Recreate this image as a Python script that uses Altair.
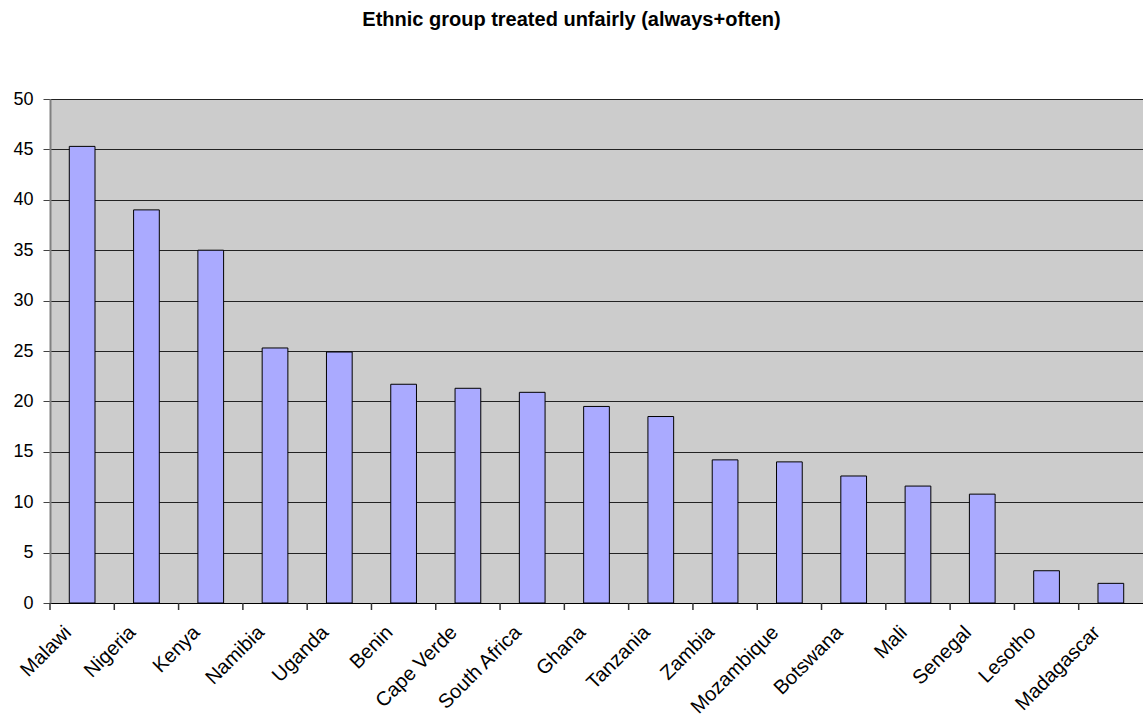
import altair as alt
import pandas as pd

countries = ["Malawi", "Nigeria", "Kenya", "Namibia", "Uganda", "Benin",
             "Cape Verde", "South Africa", "Ghana", "Tanzania", "Zambia",
             "Mozambique", "Botswana", "Mali", "Senegal", "Lesotho", "Madagascar"]
values = [45.3, 39.0, 35.0, 25.3, 24.9, 21.7, 21.3, 20.9, 19.5, 18.5,
          14.2, 14.0, 12.6, 11.6, 10.8, 3.2, 1.95]

df = pd.DataFrame({"country": countries, "pct": values})

FONT = "Liberation Sans"
W, H = 1093, 504

x_axis = alt.Axis(title=None, labelAngle=-45, labelAlign="right", labelBaseline="middle",
                  labelFont=FONT, labelFontSize=20, labelColor="black",
                  labelPadding=26, labelOffset=-14, ticks=False,
                  domainColor="black", domainWidth=1)

bars = alt.Chart(df).mark_bar(
    width=alt.RelativeBandSize(0.4), color="#AAAAFF", stroke="black", strokeWidth=1
).encode(
    x=alt.X("country:N", sort=None, axis=x_axis,
            scale=alt.Scale(paddingInner=0, paddingOuter=0)),
    y=alt.Y("pct:Q",
            scale=alt.Scale(domain=[0, 50], nice=False),
            axis=alt.Axis(title=None, values=list(range(0, 51, 5)),
                          labelFont=FONT, labelFontSize=18, labelColor="black",
                          labelPadding=10, tickSize=7, tickColor="#444444",
                          domainColor="#808080", domainWidth=2,
                          grid=True, gridColor="#222222", gridWidth=1)),
)

# category boundary ticks below the x axis
ticks = alt.Chart(df).mark_rule(color="#333333", strokeWidth=1.5).encode(
    x=alt.X("country:N", sort=None, bandPosition=0),
    y=alt.value(H),
    y2=alt.value(H + 7),
)

chart = alt.layer(bars, ticks).properties(
    width=W,
    height=H,
    background="white",
    title=alt.TitleParams("Ethnic group treated unfairly (always+often)",
                          font=FONT, fontSize=20, fontWeight="bold", color="black",
                          anchor="middle", frame="group", dx=-25, offset=60),
    autosize=alt.AutoSizeParams(type="none"),
    padding={"left": 50, "top": 99, "right": 0, "bottom": 124},
).configure_view(
    fill="#CCCCCC", stroke=None
)

chart.save("out.html", embed_options={"renderer": "svg", "actions": False})
